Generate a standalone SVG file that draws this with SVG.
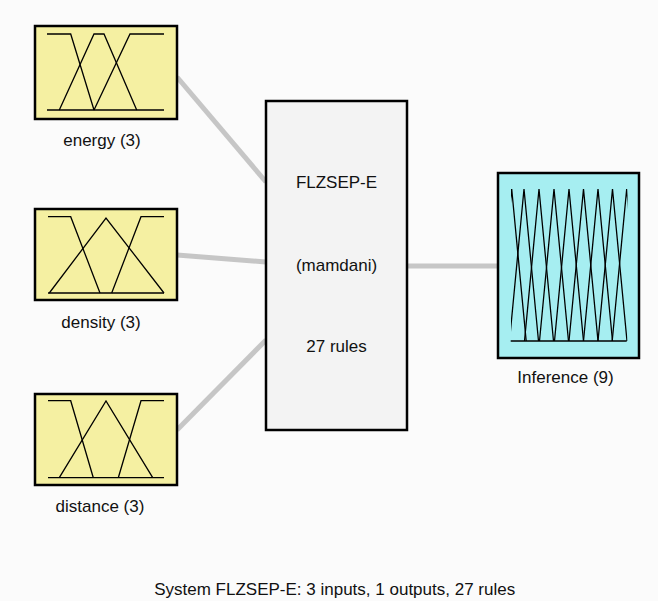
<svg xmlns="http://www.w3.org/2000/svg" width="658" height="601" viewBox="0 0 658 601">
  <style>
    .lbl { font-family: "Liberation Sans", Arial, sans-serif; font-size: 17px; fill: #111; text-anchor: middle; }
    .in-box { fill: #f5f0a2; stroke: #000; stroke-width: 2.5; }
    .out-box { fill: #a6eef1; stroke: #000; stroke-width: 2.5; }
    .sys-box { fill: #f3f3f3; stroke: #000; stroke-width: 2.5; }
    .mf { fill: none; stroke: #000; stroke-width: 1.3; stroke-linejoin: miter; }
    .conn { stroke: #c6c6c6; stroke-width: 5; fill: none; }
  </style>
  <defs>
    <clipPath id="outRange">
      <rect x="511" y="180" width="116.5" height="170"/>
    </clipPath>
  </defs>

  <rect width="658" height="601" fill="#fbfbfb"/>

  <!-- connectors between variables and the rule system -->
  <g id="connectors">
    <line class="conn" x1="177" y1="77" x2="266" y2="182"/>
    <polyline class="conn" points="177,255 215,258 266,262"/>
    <line class="conn" x1="177" y1="430" x2="266" y2="340"/>
    <line class="conn" x1="407" y1="266" x2="498" y2="266"/>
  </g>

  <!-- input: energy -->
  <g id="energy">
    <rect class="in-box" x="35" y="26" width="142" height="93"/>
    <polyline class="mf" points="47,110 164,110"/>
    <polyline class="mf" points="47,34 70.7,34 94,110"/>
    <polyline class="mf" points="59.3,110 94,34 104,34 136.7,110"/>
    <polyline class="mf" points="94,110 130,34 164,34"/>
    <text class="lbl" x="102" y="146">energy (3)</text>
  </g>

  <!-- input: density -->
  <g id="density">
    <rect class="in-box" x="35" y="209" width="142" height="91"/>
    <polyline class="mf" points="48,293 164,293"/>
    <polyline class="mf" points="48,216.7 70.7,216.7 100,293"/>
    <polyline class="mf" points="49.3,293 106,218 164,293"/>
    <polyline class="mf" points="111.7,293 141,216.7 164,216.7"/>
    <text class="lbl" x="101" y="328">density (3)</text>
  </g>

  <!-- input: distance -->
  <g id="distance">
    <rect class="in-box" x="35" y="394" width="142" height="91"/>
    <polyline class="mf" points="48,477.7 164,477.7"/>
    <polyline class="mf" points="48,400.7 70.7,400.7 93.3,477.7"/>
    <polyline class="mf" points="59.3,477.7 106,401 152.7,477.7"/>
    <polyline class="mf" points="118.3,477.7 141,400.7 164,400.7"/>
    <text class="lbl" x="100" y="512">distance (3)</text>
  </g>

  <!-- rule system -->
  <g id="system">
    <rect class="sys-box" x="266" y="101" width="141" height="329"/>
    <text class="lbl" x="336.5" y="188">FLZSEP-E</text>
    <text class="lbl" x="336.5" y="271">(mamdani)</text>
    <text class="lbl" x="336.5" y="352">27 rules</text>
  </g>

  <!-- output: Inference -->
  <g id="inference">
    <rect class="out-box" x="498" y="173" width="141" height="185"/>
    <polyline class="mf" points="510.7,341 626.7,341"/>
    <g clip-path="url(#outRange)">
      <polyline class="mf" points="497.2,341 511.7,189 526.2,341"/>
      <polyline class="mf" points="509.5,341 524,189 538.5,341"/>
      <polyline class="mf" points="524.5,341 539,189 553.5,341"/>
      <polyline class="mf" points="539.5,341 554,189 568.5,341"/>
      <polyline class="mf" points="554.5,341 569,189 583.5,341"/>
      <polyline class="mf" points="569,341 583.5,189 598,341"/>
      <polyline class="mf" points="583.5,341 598,189 612.5,341"/>
      <polyline class="mf" points="598,341 612.5,189 627,341"/>
      <polyline class="mf" points="612.2,341 626.7,189 641.2,341"/>
    </g>
    <text class="lbl" x="565.5" y="383">Inference (9)</text>
  </g>

  <!-- system summary -->
  <text class="lbl" x="334.7" y="595">System FLZSEP-E: 3 inputs, 1 outputs, 27 rules</text>
</svg>
